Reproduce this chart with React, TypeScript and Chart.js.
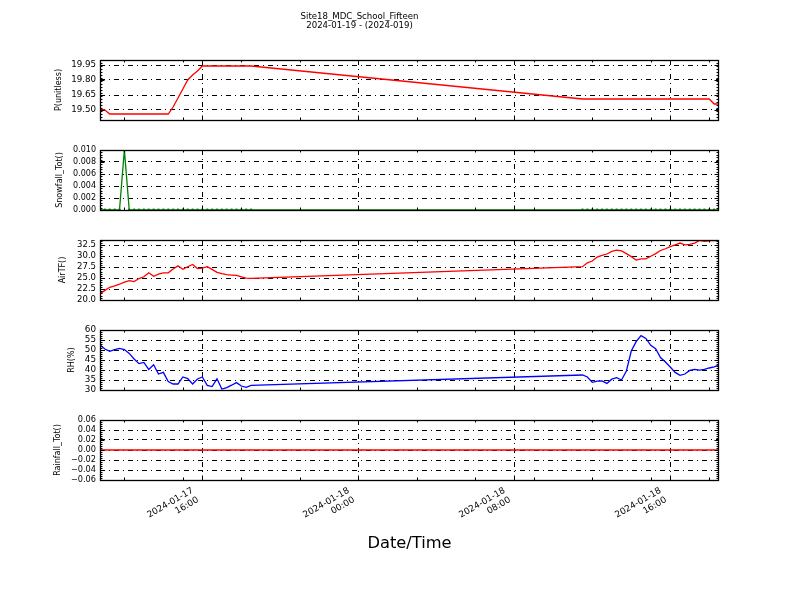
import React, { useEffect, useRef } from "react";
import { Chart, registerables } from "chart.js";

Chart.register(...registerables);

const titleLines = ["Site18_MDC_School_Fifteen", "2024-01-19 - (2024-019)"];
const xTitle = "Date/Time";

// time in hours since 2024-01-17 00:00
const timesA = [10.75, 11, 11.25, 11.5, 11.75, 12, 12.25, 12.5, 12.75, 13, 13.25, 13.5, 13.75, 14, 14.25, 14.5, 14.75, 15, 15.25, 15.5, 15.75, 16, 16.25, 16.5, 16.75, 17, 17.25, 17.5, 17.75, 18, 18.25, 18.5];
const timesB = [35.5, 35.75, 36, 36.25, 36.5, 36.75, 37, 37.25, 37.5, 37.75, 38, 38.25, 38.5, 38.75, 39, 39.25, 39.5, 39.75, 40, 40.25, 40.5, 40.75, 41, 41.25, 41.5, 41.75, 42, 42.25, 42.5];

const xMin = 10.75;
const xMax = 42.5;
const xMajorTicks = [16, 24, 32, 40];
const xMinorTicks = [12, 15, 18, 21, 27, 30, 33, 36, 39, 42];
const xTickLabels = [
  ["2024-01-17", "16:00"],
  ["2024-01-18", "00:00"],
  ["2024-01-18", "08:00"],
  ["2024-01-18", "16:00"],
];

const pA = [19.51, 19.5, 19.46, 19.46, 19.46, 19.46, 19.46, 19.46, 19.46, 19.46, 19.46, 19.46, 19.46, 19.46, 19.46, 19.53, 19.62, 19.71, 19.8, 19.85, 19.89, 19.94, 19.94, 19.94, 19.94, 19.94, 19.94, 19.94, 19.94, 19.94, 19.94, 19.94];
const pB = [19.61, 19.61, 19.61, 19.61, 19.61, 19.61, 19.61, 19.61, 19.61, 19.61, 19.61, 19.61, 19.61, 19.61, 19.61, 19.61, 19.61, 19.61, 19.61, 19.61, 19.61, 19.61, 19.61, 19.61, 19.61, 19.61, 19.61, 19.56, 19.56];

const snowA = [0, 0, 0, 0, 0, 0.01, 0, 0, 0, 0, 0, 0, 0, 0, 0, 0, 0, 0, 0, 0, 0, 0, 0, 0, 0, 0, 0, 0, 0, 0, 0, 0];
const snowB = [0, 0, 0, 0, 0, 0, 0, 0, 0, 0, 0, 0, 0, 0, 0, 0, 0, 0, 0, 0, 0, 0, 0, 0, 0, 0, 0, 0, 0];

const airA = [21.4, 22.2, 22.9, 23.2, 23.6, 24.1, 24.4, 24.2, 24.9, 25.3, 26.2, 25.4, 25.9, 26.2, 26.2, 27.1, 27.8, 27.0, 27.6, 28.1, 27.2, 27.3, 27.6, 27.0, 26.3, 26.0, 25.8, 25.7, 25.6, 25.3, 25.0, 24.95];
const airB = [27.6, 28.5, 28.9, 29.8, 30.2, 30.5, 31.1, 31.4, 31.2, 30.6, 29.9, 29.1, 29.4, 29.4, 30.0, 30.6, 31.3, 31.7, 32.2, 32.6, 33.0, 32.6, 32.7, 33.0, 33.6, 33.4, 33.5, 33.6, 33.5];

const rhA = [52.5, 50.5, 49.3, 50.2, 50.8, 50.2, 48.3, 45.5, 43.2, 43.8, 40.3, 42.6, 38.0, 38.8, 34.2, 33.0, 33.0, 36.5, 35.7, 33.0, 35.5, 36.5, 32.3, 31.7, 35.6, 30.5, 31.2, 32.4, 33.7, 32.0, 31.3, 32.3];
const rhB = [37.5, 36.5, 33.8, 34.4, 34.5, 33.3, 35.4, 36.2, 35.0, 39.5, 49.5, 54.2, 57.2, 55.8, 52.3, 50.6, 46.2, 44.0, 41.5, 38.8, 37.3, 38.0, 39.8, 40.3, 39.9, 40.3, 41.0, 41.6, 42.5];

const rainA = [0, 0, 0, 0, 0, 0, 0, 0, 0, 0, 0, 0, 0, 0, 0, 0, 0, 0, 0, 0, 0, 0, 0, 0, 0, 0, 0, 0, 0, 0, 0, 0];
const rainB = [0, 0, 0, 0, 0, 0, 0, 0, 0, 0, 0, 0, 0, 0, 0, 0, 0, 0, 0, 0, 0, 0, 0, 0, 0, 0, 0, 0, 0];

const pTicks = [19.5, 19.65, 19.8, 19.95];
const snowTicks = [0, 0.002, 0.004, 0.006, 0.008, 0.01];
const airTicks = [20, 22.5, 25, 27.5, 30, 32.5];
const rhTicks = [30, 35, 40, 45, 50, 55, 60];
const rainTicks = [-0.06, -0.04, -0.02, 0, 0.02, 0.04, 0.06];

const FONT = "'DejaVu Sans', sans-serif";
const GRID_DASH = [5, 4, 1, 4];

const fmt = (v: number, d: number) => {
  const s = Math.abs(v).toFixed(d);
  return v < -1e-12 ? "\u2212" + s : s;
};

type PanelCfg = {
  top: number;
  h: number;
  padTop: number;
  xHeight: number;
  label: string;
  labelPad: number;
  yMin: number;
  yMax: number;
  yTicks: number[];
  decimals: number;
  minorStep: number;
  tickSize: number;
  color: string;
  a: number[];
  b: number[];
  markers?: boolean;
  title?: boolean;
  showX?: boolean;
};

const panels: PanelCfg[] = [
  { top: 0, h: 130, padTop: 0, xHeight: 10, label: "P(unitless)", labelPad: 54.2, yMin: 19.4, yMax: 20.0, yTicks: pTicks, decimals: 2, minorStep: 0.03, tickSize: 8.7, color: "#ff0000", a: pA, b: pB, title: true },
  { top: 140, h: 80, padTop: 10, xHeight: 10, label: "Snowfall_Tot()", labelPad: 55.2, yMin: 0, yMax: 0.01, yTicks: snowTicks, decimals: 3, minorStep: 0.0004, tickSize: 8.0, color: "#008000", a: snowA, b: snowB, markers: true },
  { top: 230, h: 80, padTop: 10, xHeight: 10, label: "AirTF()", labelPad: 58.5, yMin: 20, yMax: 33.7, yTicks: airTicks, decimals: 1, minorStep: 0.5, tickSize: 8.5, color: "#ff0000", a: airA, b: airB },
  { top: 320, h: 80, padTop: 10, xHeight: 10, label: "RH(%)", labelPad: 66.9, yMin: 30, yMax: 60, yTicks: rhTicks, decimals: 0, minorStep: 1, tickSize: 8.8, color: "#0000ff", a: rhA, b: rhB },
  { top: 410, h: 190, padTop: 10, xHeight: 120, label: "Rainfall_Tot()", labelPad: 53.5, yMin: -0.06, yMax: 0.06, yTicks: rainTicks, decimals: 2, minorStep: 0.004, tickSize: 8.2, color: "#ff0000", a: rainA, b: rainB, showX: true },
];

function Panel({ cfg }: { cfg: PanelCfg }) {
  const ref = useRef<HTMLCanvasElement>(null);
  useEffect(() => {
    const canvas = ref.current;
    if (!canvas) return;
    const times = [...timesA, ...timesB];
    const vals = [...cfg.a, ...cfg.b];
    const data = times.map((t, i) => ({ x: t, y: vals[i] }));

    const frame = {
      id: "mplFrame",
      afterDatasetsDraw(chart: any) {
        const { ctx, chartArea: ar, scales } = chart;
        const xs = scales.x;
        const ys = scales.y;
        ctx.save();
        ctx.strokeStyle = "#000";
        ctx.lineWidth = 1;
        ctx.beginPath();
        for (const v of xMajorTicks) {
          const px = Math.round(xs.getPixelForValue(v)) + 0.5;
          ctx.moveTo(px, ar.top);
          ctx.lineTo(px, ar.top + 4.5);
          ctx.moveTo(px, ar.bottom);
          ctx.lineTo(px, ar.bottom - 4.5);
        }
        for (const v of xMinorTicks) {
          const px = Math.round(xs.getPixelForValue(v)) + 0.5;
          ctx.moveTo(px, ar.top);
          ctx.lineTo(px, ar.top + 2.5);
          ctx.moveTo(px, ar.bottom);
          ctx.lineTo(px, ar.bottom - 2.5);
        }
        for (const v of cfg.yTicks) {
          const py = Math.round(ys.getPixelForValue(v)) + 0.5;
          ctx.moveTo(ar.left, py);
          ctx.lineTo(ar.left + 4.5, py);
          ctx.moveTo(ar.right, py);
          ctx.lineTo(ar.right - 4.5, py);
        }
        const n = Math.round((cfg.yMax - cfg.yMin) / cfg.minorStep);
        for (let k = 0; k <= n; k++) {
          const v = cfg.yMin + k * cfg.minorStep;
          const py = Math.round(ys.getPixelForValue(v)) + 0.5;
          ctx.moveTo(ar.left, py);
          ctx.lineTo(ar.left + 2.5, py);
          ctx.moveTo(ar.right, py);
          ctx.lineTo(ar.right - 2.5, py);
        }
        ctx.stroke();
        ctx.lineWidth = 1.3;
        ctx.strokeRect(Math.round(ar.left) + 0.5, Math.round(ar.top) + 0.5, Math.round(ar.width) - 1, Math.round(ar.height));
        ctx.restore();
      },
    };

    const chart = new Chart(canvas, {
      type: "line",
      data: {
        datasets: [
          {
            data,
            borderColor: cfg.color,
            backgroundColor: cfg.color,
            borderWidth: 1.3,
            pointRadius: cfg.markers ? 1.4 : 0,
            pointBorderWidth: 0,
            pointBackgroundColor: cfg.color,
            tension: 0,
            fill: false,
          },
        ],
      },
      options: {
        animation: false,
        responsive: false,
        maintainAspectRatio: false,
        events: [],
        layout: { padding: { left: 0, right: 81, top: cfg.padTop, bottom: 0 } },
        plugins: {
          legend: { display: false },
          tooltip: { enabled: false },
          title: cfg.title
            ? {
                display: true,
                text: titleLines,
                color: "#000",
                font: { family: FONT, size: 8.6, weight: "normal", lineHeight: "9px" },
                padding: { top: 12.5, bottom: 29.5 },
              }
            : { display: false },
        },
        scales: {
          x: {
            type: "linear",
            min: xMin,
            max: xMax,
            afterBuildTicks: (s: any) => {
              s.ticks = xMajorTicks.map((v) => ({ value: v }));
            },
            afterFit: (s: any) => {
              s.height = cfg.xHeight;
            },
            grid: { display: true, drawOnChartArea: true, drawTicks: false, color: "#000", lineWidth: 1 },
            border: { display: false, dash: GRID_DASH },
            ticks: {
              display: !!cfg.showX,
              autoSkip: false,
              minRotation: 30,
              maxRotation: 30,
              padding: 5.4,
              labelOffset: -9.7,
              color: "#000",
              font: { family: FONT, size: 8.9 },
              callback: (_v: any, i: number) => xTickLabels[i],
            },
            title: {
              display: !!cfg.showX,
              text: xTitle,
              color: "#000",
              font: { family: FONT, size: 16.3 },
              padding: { top: 0, bottom: 46.4 },
            },
          },
          y: {
            type: "linear",
            min: cfg.yMin,
            max: cfg.yMax,
            afterBuildTicks: (s: any) => {
              s.ticks = cfg.yTicks.map((v) => ({ value: v }));
            },
            afterFit: (s: any) => {
              s.width = 100;
            },
            grid: { display: true, drawOnChartArea: true, drawTicks: false, color: "#000", lineWidth: 1 },
            border: { display: false, dash: GRID_DASH },
            ticks: {
              autoSkip: false,
              padding: 4,
              color: "#000",
              font: { family: FONT, size: cfg.tickSize },
              callback: (v: any) => fmt(Number(v), cfg.decimals),
            },
            title: {
              display: true,
              text: cfg.label,
              color: "#000",
              font: { family: FONT, size: 8 },
              padding: { top: cfg.labelPad, bottom: 0 },
            },
          },
        },
      } as any,
      plugins: [frame],
    });
    return () => chart.destroy();
  }, [cfg]);
  return (
    <canvas
      ref={ref}
      width={800}
      height={cfg.h}
      style={{ position: "absolute", left: 0, top: cfg.top, width: 800, height: cfg.h }}
    />
  );
}

export default function App() {
  return (
    <div style={{ position: "absolute", left: 0, top: 0, width: 800, height: 600, background: "#fff" }}>
      {panels.map((p, i) => (
        <Panel key={i} cfg={p} />
      ))}
    </div>
  );
}
